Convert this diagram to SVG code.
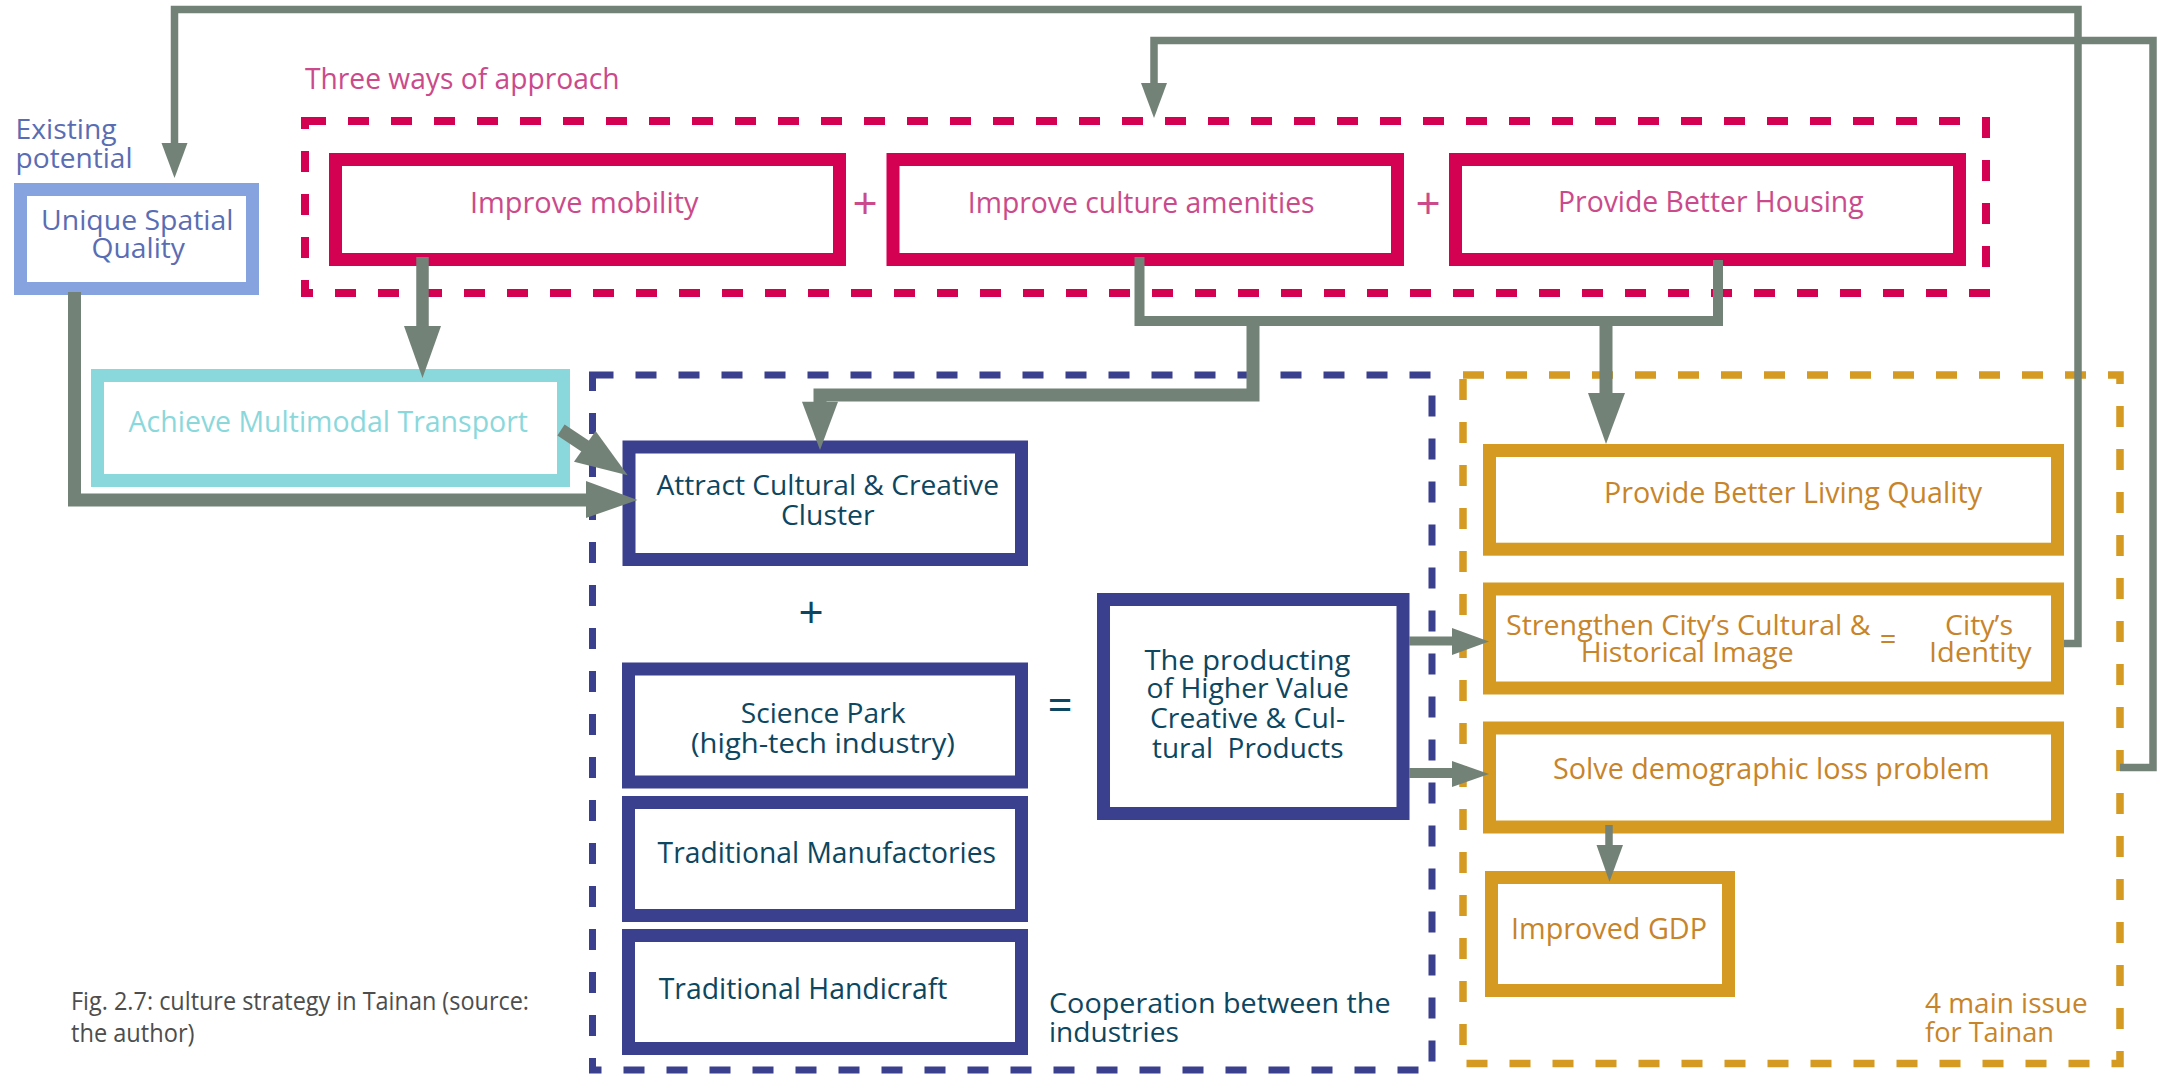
<svg xmlns="http://www.w3.org/2000/svg" width="2157" height="1074" viewBox="0 0 2157 1074">
<style>
text { font-family: "Open Sans","Noto Sans","Liberation Sans",sans-serif; font-size:29px; }
.ml{font-size:27px}
.pt{fill:#cb4a8b} .nt{fill:#0d4660} .ot{fill:#c8842a} .ut{fill:#5a6db3} .ct{fill:#8ad8dc} .cap{fill:#4d4d4d; font-size:25px}
.sign{font-size:44px}
.box{fill:#fff; stroke-width:13}
.pb{stroke:#d40052} .bb{stroke:#3a3f8e} .ob{stroke:#d49a22} .ub{stroke:#86a3df} .cb{stroke:#8ad8dc}
.dash{fill:none; stroke-dasharray:21 22}
.con{fill:none; stroke:#738277; stroke-linejoin:miter; stroke-linecap:butt}
.head{fill:#738277}
</style>
<rect x="0" y="0" width="2157" height="1074" fill="#fff"/>

<g id="group-approach">
  <rect class="dash" x="305" y="121" width="1681" height="172" stroke="#d40052" stroke-width="8"/>
  <text class="pt" x="305" y="89" font-size="31" textLength="314.6" lengthAdjust="spacingAndGlyphs">Three ways of approach</text>
</g>
<g id="group-industries">
  <rect class="dash" x="592.5" y="375" width="839.5" height="695" stroke="#3a3f8e" stroke-width="7"/>
  <text class="nt ml" x="1049" y="1013" textLength="341.6" lengthAdjust="spacingAndGlyphs">Cooperation between the</text>
  <text class="nt ml" x="1049" y="1041.7" textLength="129.8" lengthAdjust="spacingAndGlyphs">industries</text>
</g>
<g id="group-issues">
  <rect class="dash" x="1463" y="375" width="657" height="688.5" stroke="#d49a22" stroke-width="7.5"/>
  <text class="ot ml" x="1925" y="1013" textLength="162.6" lengthAdjust="spacingAndGlyphs">4 main issue</text>
  <text class="ot ml" x="1925" y="1041.7" textLength="129" lengthAdjust="spacingAndGlyphs">for Tainan</text>
</g>

<g id="node-unique">
  <text class="ut ml" x="15.6" y="139" textLength="101" lengthAdjust="spacingAndGlyphs">Existing</text>
  <text class="ut ml" x="15.6" y="168" textLength="117" lengthAdjust="spacingAndGlyphs">potential</text>
  <rect class="box ub" x="20.5" y="189.5" width="232" height="99"/>
  <text class="ut ml" x="41" y="230" textLength="192.5" lengthAdjust="spacingAndGlyphs">Unique Spatial</text>
  <text class="ut ml" x="91.5" y="258" textLength="93.5" lengthAdjust="spacingAndGlyphs">Quality</text>
</g>
<g id="node-mobility">
  <rect class="box pb" x="335.5" y="159.5" width="504" height="100"/>
  <text class="pt" x="470" y="213" textLength="228.5" lengthAdjust="spacingAndGlyphs">Improve mobility</text>
</g>
<text class="pt sign" x="865" y="219" text-anchor="middle">+</text>
<g id="node-culture">
  <rect class="box pb" x="893" y="159.5" width="504.5" height="100"/>
  <text class="pt" x="967.8" y="213" textLength="346.8" lengthAdjust="spacingAndGlyphs">Improve culture amenities</text>
</g>
<text class="pt sign" x="1428" y="219" text-anchor="middle">+</text>
<g id="node-housing">
  <rect class="box pb" x="1455.5" y="159.5" width="504" height="100"/>
  <text class="pt" x="1558" y="212" textLength="305.6" lengthAdjust="spacingAndGlyphs">Provide Better Housing</text>
</g>
<g id="node-transport">
  <rect class="box cb" x="97.5" y="375.5" width="466" height="105"/>
  <text class="ct" x="128.6" y="431.7" textLength="399.4" lengthAdjust="spacingAndGlyphs">Achieve Multimodal Transport</text>
</g>
<g id="node-attract">
  <rect class="box bb" x="629" y="447" width="392.5" height="112.5"/>
  <text class="nt ml" x="656.4" y="495" textLength="342.6" lengthAdjust="spacingAndGlyphs">Attract Cultural &amp; Creative</text>
  <text class="nt ml" x="781" y="525" textLength="93.5" lengthAdjust="spacingAndGlyphs">Cluster</text>
</g>
<text class="nt sign" x="811" y="628" text-anchor="middle">+</text>
<g id="node-science">
  <rect class="box bb" x="628.5" y="669" width="393" height="113"/>
  <text class="nt ml" x="740.8" y="723" textLength="164.7" lengthAdjust="spacingAndGlyphs">Science Park</text>
  <text class="nt ml" x="691" y="752.7" textLength="264" lengthAdjust="spacingAndGlyphs">(high-tech industry)</text>
</g>
<g id="node-manufactories">
  <rect class="box bb" x="628.5" y="802.5" width="393" height="113"/>
  <text class="nt" x="657.6" y="862.7" textLength="338.4" lengthAdjust="spacingAndGlyphs">Traditional Manufactories</text>
</g>
<g id="node-handicraft">
  <rect class="box bb" x="628.5" y="935.5" width="393" height="113"/>
  <text class="nt" x="658.7" y="998.7" textLength="288.8" lengthAdjust="spacingAndGlyphs">Traditional Handicraft</text>
</g>
<text class="nt sign" x="1060" y="721" text-anchor="middle">=</text>
<g id="node-products">
  <rect class="box bb" x="1103.5" y="599.5" width="299.5" height="214"/>
  <text class="nt ml" x="1144.4" y="670" textLength="206" lengthAdjust="spacingAndGlyphs">The producting</text>
  <text class="nt ml" x="1146.6" y="698.3" textLength="202.4" lengthAdjust="spacingAndGlyphs">of Higher Value</text>
  <text class="nt ml" x="1150" y="728" textLength="195" lengthAdjust="spacingAndGlyphs">Creative &amp; Cul-</text>
  <text class="nt ml" x="1152" y="758" textLength="191.5" lengthAdjust="spacingAndGlyphs" style="white-space:pre">tural  Products</text>
</g>
<g id="node-living">
  <rect class="box ob" x="1489.5" y="450.5" width="568" height="98.7"/>
  <text class="ot" x="1604" y="503.3" textLength="378" lengthAdjust="spacingAndGlyphs">Provide Better Living Quality</text>
</g>
<g id="node-image">
  <rect class="box ob" x="1489.5" y="589" width="568" height="99"/>
  <text class="ot ml" x="1506" y="635" textLength="364.5" lengthAdjust="spacingAndGlyphs">Strengthen City’s Cultural &amp;</text>
  <text class="ot ml" x="1580.7" y="661.7" textLength="213" lengthAdjust="spacingAndGlyphs">Historical Image</text>
  <text class="ot" x="1888" y="649" font-size="34" text-anchor="middle">=</text>
  <text class="ot ml" x="1945" y="635" textLength="68" lengthAdjust="spacingAndGlyphs">City’s</text>
  <text class="ot ml" x="1929" y="661.7" textLength="102.6" lengthAdjust="spacingAndGlyphs">Identity</text>
</g>
<g id="node-demographic">
  <rect class="box ob" x="1489.5" y="728" width="568" height="99"/>
  <text class="ot" x="1553" y="779" textLength="436.5" lengthAdjust="spacingAndGlyphs">Solve demographic loss problem</text>
</g>
<g id="node-gdp">
  <rect class="box ob" x="1491.5" y="877.5" width="237" height="113"/>
  <text class="ot" x="1511" y="939" textLength="196" lengthAdjust="spacingAndGlyphs">Improved GDP</text>
</g>

<g id="connectors">
  <path class="con" stroke-width="7.5" d="M2064,643.5 H2078 V9.5 H174.5 V144"/>
  <polygon class="head" points="161.5,143 187.5,143 174.5,178"/>
  <path class="con" stroke-width="7.5" d="M2120,767.5 H2153 V40.5 H1154 V84"/>
  <polygon class="head" points="1141,83 1167,83 1154,118"/>
  <path class="con" stroke-width="13" d="M74.5,292 V500 H588"/>
  <polygon class="head" points="586,481 586,518 637.5,500"/>
  <path class="con" stroke-width="12.5" d="M422.5,257 V328"/>
  <polygon class="head" points="404,326 441,326 422.5,378"/>
  <path class="con" stroke-width="13" d="M561,430 L588,448"/>
  <polygon class="head" points="574,461.7 595.6,431 627.7,475.3"/>
  <path class="con" stroke-width="10" d="M1139.5,257 V321 H1718 V260"/>
  <path class="con" stroke-width="13" d="M1253,321 V395 H820 V403"/>
  <polygon class="head" points="802,401.7 838,401.7 820,450"/>
  <path class="con" stroke-width="13" d="M1606,321 V394"/>
  <polygon class="head" points="1588,393 1625,393 1606,444"/>
  <path class="con" stroke-width="9" d="M1409,641 H1453"/>
  <polygon class="head" points="1452,628 1452,655 1489,641.5"/>
  <path class="con" stroke-width="10" d="M1409,773 H1453"/>
  <polygon class="head" points="1452,761 1452,787 1489,774"/>
  <path class="con" stroke-width="7.5" d="M1609,825 V846"/>
  <polygon class="head" points="1596.5,845 1623,845 1609.5,881.7"/>
</g>

<g id="caption">
  <text class="cap" x="71" y="1010" textLength="458" lengthAdjust="spacingAndGlyphs">Fig. 2.7: culture strategy in Tainan (source:</text>
  <text class="cap" x="71" y="1041.7" textLength="123.5" lengthAdjust="spacingAndGlyphs">the author)</text>
</g>
</svg>
